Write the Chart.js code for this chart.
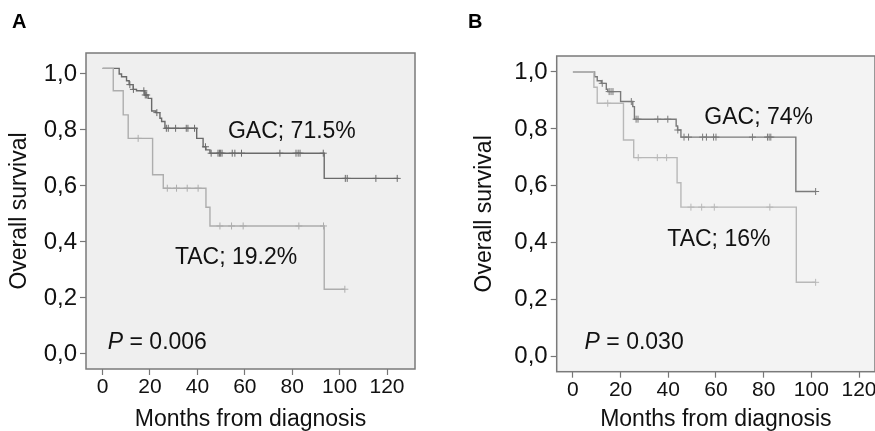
<!DOCTYPE html>
<html>
<head>
<meta charset="utf-8">
<script src="https://cdn.jsdelivr.net/npm/chart.js@4"></script>
<style>
  html, body { margin: 0; padding: 0; background: #fff; overflow: hidden; }
  #wrap { position: relative; width: 875px; height: 431px; overflow: hidden; }
  .panel { position: absolute; top: 0; height: 431px; }
  #pa { left: 0; width: 437px; }
  #pb { left: 440px; width: 440px; }
  .tag { position: absolute; font: bold 20px "Liberation Sans", Arial, sans-serif; color: #000; }
</style>
</head>
<body>
<div id="wrap">
  <div class="panel" id="pa"><canvas id="chart-a" width="437" height="431"></canvas></div>
  <div class="panel" id="pb"><canvas id="chart-b" width="440" height="431"></canvas></div>
  <div class="tag" style="left:12px;top:10px">A</div>
  <div class="tag" style="left:468px;top:10px">B</div>
</div>
<script>
// ---- data (months, survival) ----
const xTicks = [0, 20, 40, 60, 80, 100, 120];
const yTicks = [0, 0.2, 0.4, 0.6, 0.8, 1.0];
const yTickLabels = ['0,0', '0,2', '0,4', '0,6', '0,8', '1,0'];

// panel A
const aGacTimes = [0, 7.0, 8.0, 10.1, 11.2, 12.9, 14.3, 17.8, 19.2, 20.7, 22.5, 24.2, 24.9, 26.3, 39.7, 42.4, 43.6, 45.3, 93.5, 124.8];
const aGacSurv  = [1.02, 1.0, 0.99, 0.976, 0.962, 0.945, 0.94, 0.925, 0.913, 0.868, 0.862, 0.842, 0.83, 0.806, 0.77, 0.74, 0.729, 0.717, 0.627, 0.627];
const aGacCensor = [11.5, 13.0, 17.4, 18.0, 18.6, 22.9, 26.9, 27.7, 30.8, 35.3, 36.0, 38.8, 43.4, 45.8, 48.7, 49.3, 49.8, 50.4, 54.7, 55.8, 58.6, 74.8, 81.6, 82.5, 83.3, 93.1, 102.4, 103.2, 115.3, 124.3];
const aTacTimes = [0, 4.5, 8.7, 10.8, 21.1, 25.6, 43.6, 45.3, 93.5, 102.2];
const aTacSurv  = [1.02, 0.94, 0.854, 0.77, 0.64, 0.592, 0.524, 0.457, 0.231, 0.231];
const aTacCensor = [15.0, 27.3, 31.2, 35.7, 40.3, 49.5, 54.4, 59.3, 82.8, 93.2, 102.2];

// panel B
const bGacTimes = [0, 9.1, 10.2, 11.9, 14.0, 14.6, 20.0, 25.1, 25.8, 43.3, 43.9, 45.3, 93.5, 101.8];
const bGacSurv  = [1.0, 0.983, 0.969, 0.96, 0.939, 0.931, 0.896, 0.878, 0.834, 0.81, 0.796, 0.771, 0.58, 0.58];
const bGacCensor = [12.3, 15.2, 16.0, 16.8, 24.5, 26.5, 27.3, 35.6, 39.8, 44.0, 46.6, 48.5, 54.4, 56.0, 59.0, 60.0, 75.3, 81.6, 82.3, 83.0, 101.8];
const bTacTimes = [0, 8.8, 10.2, 21.2, 25.5, 43.7, 45.3, 93.7, 101.8];
const bTacSurv  = [1.0, 0.946, 0.89, 0.761, 0.699, 0.611, 0.525, 0.261, 0.261];
const bTacCensor = [14.6, 27.4, 35.4, 39.3, 49.5, 54.0, 59.3, 82.6, 101.8];

// ---- helpers ----
Chart.defaults.font.family = '"Liberation Sans", Arial, sans-serif';
Chart.defaults.color = '#111';

function levelAt(times, surv, t) {
  let v = surv[0];
  for (let i = 0; i < times.length; i++) if (times[i] <= t) v = surv[i];
  return v;
}

const kmPlugin = {
  id: 'kmBox',
  beforeDatasetsDraw(chart, args, o) {
    const { ctx, chartArea: a } = chart;
    ctx.save();
    ctx.fillStyle = o.bg;
    ctx.fillRect(a.left, a.top, a.right - a.left, a.bottom - a.top);
    ctx.restore();
  },
  afterDraw(chart, args, o) {
    const { ctx, chartArea: a, scales } = chart;
    ctx.save();
    ctx.strokeStyle = '#7a7a7a';
    ctx.lineWidth = 1.5;
    ctx.strokeRect(a.left, a.top, a.right - a.left, a.bottom - a.top);
    ctx.fillStyle = '#111';
    ctx.textBaseline = 'middle';
    ctx.textAlign = 'left';
    o.notes.forEach(n => {
      let x = scales.x.getPixelForValue(n.x);
      const y = scales.y.getPixelForValue(n.y);
      if (n.italic) {
        ctx.font = 'italic 23px "Liberation Sans", Arial, sans-serif';
        ctx.fillText(n.italic, x, y);
        x += ctx.measureText(n.italic).width;
      }
      ctx.font = '23px "Liberation Sans", Arial, sans-serif';
      ctx.fillText(n.text, x, y);
    });
    ctx.restore();
  }
};

function stepSet(times, surv, color) {
  return {
    data: times.map((t, i) => ({ x: t, y: surv[i] })),
    stepped: true, borderColor: color, borderWidth: 1.4,
    pointRadius: 0, fill: false
  };
}
function censorSet(times, surv, cens, color) {
  return {
    data: cens.map(t => ({ x: t, y: levelAt(times, surv, t) })),
    showLine: false, pointStyle: 'cross', pointRadius: 3.5,
    borderColor: color, borderWidth: 1, backgroundColor: color
  };
}

function makeKM(id, cfg) {
  const canvas = document.getElementById(id);
  const H = canvas.height, W = canvas.width;
  return new Chart(canvas, {
    type: 'line',
    data: {
      datasets: [
        stepSet(cfg.tacT, cfg.tacS, cfg.tacColor),
        censorSet(cfg.tacT, cfg.tacS, cfg.tacC, cfg.tacColor),
        stepSet(cfg.gacT, cfg.gacS, cfg.gacColor),
        censorSet(cfg.gacT, cfg.gacS, cfg.gacC, cfg.gacColor)
      ]
    },
    options: {
      responsive: false,
      animation: false,
      layout: { padding: { top: cfg.top, right: W - cfg.right, left: 0, bottom: 0 } },
      plugins: {
        legend: { display: false },
        tooltip: { enabled: false },
        kmBox: { bg: cfg.bg, notes: cfg.notes }
      },
      scales: {
        x: {
          type: 'linear', min: cfg.xMin, max: cfg.xMax,
          afterBuildTicks: s => { s.ticks = xTicks.map(v => ({ value: v })); },
          afterFit: s => { s.height = H - cfg.bottom; },
          ticks: { font: { size: 21, lineHeight: 1 }, padding: 2, color: '#111', maxRotation: 0, autoSkip: false },
          grid: { drawOnChartArea: false, tickLength: 6, color: '#777', tickWidth: 1.2 },
          border: { display: false },
          title: { display: true, text: 'Months from diagnosis', font: { size: 23, lineHeight: 1 }, padding: { top: 0, bottom: 0 }, color: '#111' }
        },
        y: {
          min: cfg.yMin, max: cfg.yMax,
          afterBuildTicks: s => { s.ticks = yTicks.map(v => ({ value: v })); },
          afterFit: s => { s.width = cfg.left; },
          ticks: { font: { size: 24, lineHeight: 1 }, padding: 3, color: '#111',
                   callback: v => yTickLabels[yTicks.findIndex(t => Math.abs(t - v) < 1e-6)] },
          grid: { drawOnChartArea: false, tickLength: 6, color: '#777', tickWidth: 1.2 },
          border: { display: false },
          title: { display: true, text: 'Overall survival', font: { size: 23, lineHeight: 1 }, padding: { top: cfg.titlePad, bottom: 0 }, color: '#111' }
        }
      }
    },
    plugins: [kmPlugin]
  });
}

makeKM('chart-a', {
  left: 86, right: 415, top: 53, bottom: 369, titlePad: 8,
  xMin: -7.0, xMax: 131.8, yMin: -0.054, yMax: 1.075,
  bg: '#efefef', gacColor: '#6a6a6a', tacColor: '#adadad',
  gacT: aGacTimes, gacS: aGacSurv, gacC: aGacCensor,
  tacT: aTacTimes, tacS: aTacSurv, tacC: aTacCensor,
  notes: [
    { x: 52.9, y: 0.794, text: 'GAC; 71.5%' },
    { x: 30.5, y: 0.343, text: 'TAC; 19.2%' },
    { x: 2.2, y: 0.039, italic: 'P', text: ' = 0.006' }
  ]
});

makeKM('chart-b', {
  left: 116.7, right: 436, top: 56, bottom: 371.7, titlePad: 33.5,
  xMin: -6.8, xMax: 126.7, yMin: -0.053, yMax: 1.056,
  bg: '#f3f3f3', gacColor: '#7a7a7a', tacColor: '#b8b8b8',
  gacT: bGacTimes, gacS: bGacSurv, gacC: bGacCensor,
  tacT: bTacTimes, tacS: bTacSurv, tacC: bTacCensor,
  notes: [
    { x: 55.1, y: 0.838, text: 'GAC; 74%' },
    { x: 39.6, y: 0.41, text: 'TAC; 16%' },
    { x: 4.9, y: 0.048, italic: 'P', text: ' = 0.030' }
  ]
});
</script>
</body>
</html>
